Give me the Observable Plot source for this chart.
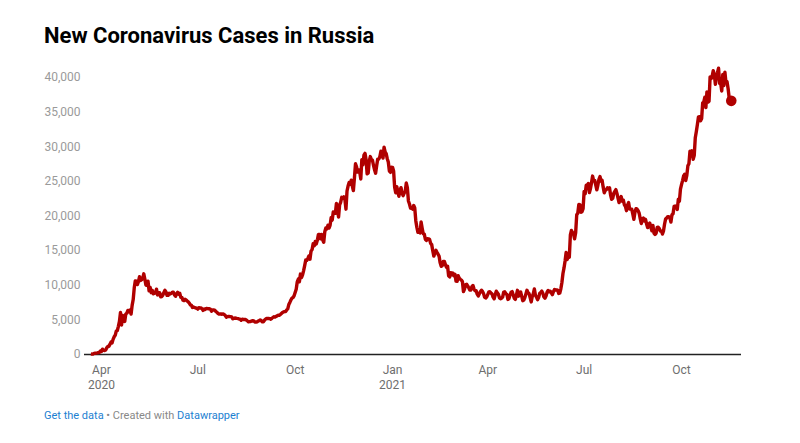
<!DOCTYPE html>
<html>
<head>
<meta charset="utf-8">
<script src="https://cdn.jsdelivr.net/npm/d3@7"></script>
<script src="https://cdn.jsdelivr.net/npm/@observablehq/plot@0.6"></script>
<style>
  html, body { margin: 0; padding: 0; background: #fff; }
  body { width: 800px; height: 443px; position: relative; overflow: hidden; font-family: Roboto, "Noto Sans", sans-serif; }
  #title { position: absolute; left: 44px; top: 25px; font-size: 22px; line-height: 1; font-weight: 700; color: #000; white-space: nowrap; }
  #chart { position: absolute; left: 0; top: 60px; }
  #caption { position: absolute; left: 44px; top: 410px; font-size: 11px; line-height: 1; color: #888; white-space: nowrap; }
  #caption .link { color: #1d7fd1; }
</style>
</head>
<body>
<div id="title">New Coronavirus Cases in Russia</div>
<div id="chart"></div>
<div id="caption"><span class="link">Get the data</span> • Created with <span class="link">Datawrapper</span></div>
<script>
// Daily new cases, starting 2020-03-22 (one row per week)
const startDate = "2020-03-22";
const dailyCases = [
  71, 57, 71, 163, 182, 196, 228,
  270, 302, 501, 440, 771, 601, 582,
  658, 954, 1154, 1175, 1459, 1786, 1667,
  2186, 2558, 2774, 3388, 3448, 4070, 4785,
  6060, 4268, 5642, 5236, 4774, 5849, 5966,
  6361, 6198, 6411, 5841, 7099, 7933, 9623,
  10633, 10581, 10102, 10559, 11231, 10699, 10817,
  11012, 11656, 10899, 10028, 9974, 10598, 9200,
  9709, 8926, 9263, 8764, 8849, 8894, 9434,
  8599, 8946, 8915, 8338, 8371, 8572, 8952,
  9268, 9035, 8536, 8536, 8831, 8726, 8855,
  8984, 8985, 8595, 8404, 8779, 8987, 8706,
  8835, 8246, 8248, 7843, 7790, 7972, 7889,
  7728, 7600, 7425, 7176, 7113, 6800, 6852,
  6791, 6719, 6693, 6556, 6760, 6718, 6736,
  6611, 6368, 6562, 6509, 6635, 6632, 6611,
  6615, 6537, 6248, 6422, 6428, 6406, 6234,
  6109, 5940, 5842, 5862, 5848, 5811, 5871,
  5765, 5635, 5395, 5475, 5509, 5482, 5462,
  5427, 5159, 5204, 5267, 5241, 5212, 5189,
  5118, 5102, 4945, 5102, 5057, 5065, 5061,
  4969, 4839, 4718, 4748, 4767, 4838, 4870,
  4852, 4696, 4676, 4711, 4829, 4880, 4980,
  4897, 4729, 4729, 4952, 5110, 5205, 5195,
  5205, 5185, 5099, 5218, 5363, 5449, 5406,
  5509, 5572, 5670, 5670, 5762, 5905, 6065,
  6148, 6196, 6215, 6431, 6595, 7212, 7523,
  7867, 8135, 8232, 8481, 8945, 9412, 10499,
  10888, 10499, 11615, 11115, 11493, 12126, 12846,
  13634, 13592, 13868, 14231, 13754, 14922, 15150,
  15982, 15700, 16319, 15971, 16521, 17340, 17347,
  16710, 17347, 16550, 16202, 17717, 18283, 18140,
  18665, 18257, 18648, 19768, 19404, 20582, 20498,
  20396, 21798, 20977, 19851, 21608, 21983, 22702,
  22572, 22778, 22410, 20985, 23610, 24318, 24822,
  24581, 25173, 24326, 23675, 25487, 27543, 27100,
  26338, 26683, 26402, 25345, 28145, 27403, 28782,
  29039, 28142, 26097, 26190, 27927, 28585, 28137,
  28080, 27328, 26689, 26190, 27250, 28214, 28209,
  28552, 29350, 28948, 28363, 29935, 29258, 29018,
  28284, 27787, 26513, 26301, 27039, 27029, 26513,
  24150, 23351, 24246, 23541, 22851, 23652, 24092,
  23309, 22934, 23315, 23541, 24763, 24092, 22170,
  21734, 21127, 21152, 20999, 21513, 21152, 19290,
  18359, 17648, 17741, 17567, 19138, 18241, 17429,
  17379, 16643, 16474, 16714, 16688, 16627, 16048,
  15861, 14982, 14207, 14664, 15038, 14752, 14494,
  14185, 13233, 12742, 12828, 13433, 13447, 12953,
  12604, 12742, 11359, 11198, 11823, 11534, 11749,
  11362, 11571, 10595, 10565, 11385, 11024, 10869,
  10753, 10535, 9079, 9445, 10103, 10138, 9908,
  9632, 9299, 9299, 9803, 9972, 9445, 9215,
  9215, 8704, 8457, 8769, 9073, 9288, 9120,
  8790, 8277, 8162, 8328, 8683, 9037, 9052,
  8885, 8731, 8294, 8057, 8634, 9142, 8911,
  8702, 8173, 8053, 8137, 8296, 9014, 9056,
  8807, 8697, 7956, 8078, 8589, 8983, 9076,
  8626, 8115, 7957, 8553, 9270, 8419, 8951,
  9035, 8419, 7770, 7854, 8217, 8759, 9270,
  8926, 8790, 8217, 7587, 8380, 8780, 9462,
  8554, 8294, 7920, 8217, 8828, 8951, 9145,
  8832, 8307, 8125, 8446, 8997, 9252, 9070,
  9145, 8903, 8643, 9062, 9377, 9301, 9330,
  9289, 8810, 8880, 9484, 10407, 11699, 12505,
  13510, 14723, 13721, 14185, 14057, 17262, 17906,
  17611, 17378, 16715, 17594, 20182, 20393, 21665,
  21650, 20538, 20616, 21042, 23543, 23218, 24439,
  24353, 24702, 23378, 23962, 24818, 25766, 25082,
  25142, 24471, 23770, 24471, 25293, 25704, 25018,
  25140, 24166, 23351, 23704, 23811, 24072, 23947,
  24072, 23032, 22420, 22560, 23270, 23564, 23807,
  23270, 22589, 21932, 22330, 22804, 22144, 22320,
  21624, 21378, 20765, 21571, 21932, 21000, 20992,
  20992, 20268, 19520, 20557, 21058, 20992, 20765,
  20402, 19630, 18919, 19565, 19706, 19286, 19509,
  18856, 18325, 18780, 18985, 18371, 17856, 18645,
  17525, 17325, 17528, 18341, 18380, 18178, 17837,
  17837, 17396, 17856, 18841, 19594, 19706, 19905,
  19905, 19744, 19122, 20174, 20329, 21379, 21438,
  21375, 20951, 22430, 22141, 23888, 24522, 25110,
  25781, 26025, 25133, 25865, 27246, 27550, 29362,
  28647, 29409, 28190, 28717, 31299, 32196, 33208,
  34303, 34325, 33740, 34073, 36339, 36446, 37141,
  35660, 37930, 36446, 36582, 40096, 39849, 40251,
  40993, 40402, 39008, 40217, 40735, 41335, 39165,
  39160, 38058, 40443, 38823, 40759, 39256, 39400,
  38420, 37120, 36818, 36626
];

const xDomain = ["2020-03-16", "2021-11-26T16:00:00Z"];
const xTickDates = ["2020-04-01", "2020-07-01", "2020-10-01", "2021-01-01", "2021-04-01", "2021-07-01", "2021-10-01"];
const xTickLabels = ["Apr\n2020", "Jul", "Oct", "Jan\n2021", "Apr", "Jul", "Oct"];
const yTicks = [0, 5000, 10000, 15000, 20000, 25000, 30000, 35000, 40000];

const start = new Date(startDate + "T00:00:00Z");
const data = dailyCases.map((v, i) => ({ date: d3.utcDay.offset(start, i), value: v }));
const last = data[data.length - 1];
const tickDates = xTickDates.map(s => new Date(s + "T00:00:00Z"));
const labelOf = new Map(tickDates.map((d, i) => [+d, xTickLabels[i]]));

const lineColor = "#b00000";

const chart = Plot.plot({
  width: 800,
  height: 335,
  marginLeft: 84,
  marginRight: 59,
  marginTop: 17,
  marginBottom: 41,
  style: { fontFamily: "Roboto, 'Noto Sans', sans-serif", background: "transparent" },
  x: { type: "utc", domain: xDomain.map(s => new Date(s.length > 10 ? s : s + "T00:00:00Z")) },
  y: { domain: [0, 40000] },
  marks: [
    Plot.axisY({ ticks: yTicks, tickFormat: d3.format(","), tickSize: 0, tickPadding: 4, fontSize: 12, fill: "#9a9a9a", label: null }),
    Plot.axisX({ ticks: tickDates, tickFormat: d => labelOf.get(+d), tickSize: 0, tickPadding: 9, fontSize: 12, fill: "#6e6e6e", lineHeight: 1.25, label: null }),
    Plot.ruleY([0], { stroke: "#222", strokeWidth: 1.3 }),
    Plot.lineY(data, { x: "date", y: "value", stroke: lineColor, strokeWidth: 3.4, strokeLinejoin: "round", strokeLinecap: "butt" }),
    Plot.dot([last], { x: "date", y: "value", r: 5.3, fill: lineColor, stroke: "none" })
  ]
});
document.getElementById("chart").appendChild(chart);
</script>
</body>
</html>
